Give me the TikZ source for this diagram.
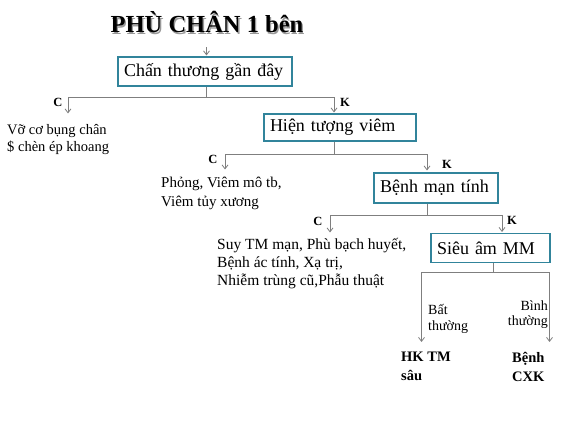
\documentclass[tikz,border=0pt]{standalone}
\usepackage{fontspec}
\setmainfont{Liberation Serif}
\usetikzlibrary{arrows.meta}
\definecolor{boxteal}{HTML}{31849B}
\definecolor{linegray}{HTML}{7F7F7F}
\begin{document}
\begin{tikzpicture}[x=1pt,y=-1pt,
  box/.style={draw=boxteal, line width=1.3pt, fill=white, font=\fontsize{18}{22}\selectfont,
    inner xsep=6pt, inner ysep=0pt, align=left},
  conn/.style={draw=linegray, line width=0.9pt},
  arr/.style={draw=linegray, line width=0.9pt, -{Straight Barb[length=4pt,width=6pt,line width=0.8pt]}},
  lbl/.style={font=\bfseries\fontsize{12.5}{14}\selectfont, inner sep=0pt},
  note/.style={font=\fontsize{14}{19}\selectfont, align=left, inner sep=0pt, anchor=west},
  titletxt/.style={font=\bfseries\fontsize{24.5}{28}\selectfont, inner sep=0pt, anchor=base},
]
\useasboundingbox (0,0) rectangle (563,422);
\fill[white] (0,0) rectangle (563,422);

% title with shadow
\node[titletxt, text=black!40] (titleshadow) at (208.3,34.3) {PHÙ CHÂN 1 bên};
\node[titletxt] (title) at (207,33) {PHÙ CHÂN 1 bên};

% boxes
\node[box, text width=162pt, minimum height=29pt] (b1) at (205,71.5) {\mbox{Chấn thương gần đây}};
\node[box, text width=140pt, minimum height=27pt] (b2) at (340,127.5) {\mbox{Hiện tượng viêm}};
\node[box, text width=112pt, minimum height=30pt] (b3) at (436,188) {\mbox{Bệnh mạn tính}};
\node[box, text width=107pt, minimum height=28.5pt] (b4) at (490.5,248) {\mbox{Siêu âm MM}};

% texts
\node[note, font=\fontsize{14.5}{17.5}\selectfont] (t1) at (7,139.5) {Vỡ cơ bụng chân\\\$ chèn ép khoang};
\node[note, font=\fontsize{15}{19}\selectfont] (t2) at (161,193) {Phỏng, Viêm mô tb,\\Viêm tủy xương};
\node[note, font=\fontsize{15.5}{18}\selectfont] (t3) at (217,264) {Suy TM mạn, Phù bạch huyết,\\Bệnh ác tính, Xạ trị,\\Nhiễm trùng cũ,Phẫu thuật};
\node[note, font=\fontsize{14}{16.5}\selectfont] (bat) at (428,319) {Bất\\thường};
\node[note, anchor=east, align=right, font=\fontsize{14}{15.5}\selectfont] (binh) at (548,314.5) {Bình\\thường};
\node[note, font=\bfseries\fontsize{14.5}{19}\selectfont] (hk) at (401,366.5) {HK TM\\sâu};
\node[note, font=\bfseries\fontsize{14.5}{19}\selectfont] (cxk) at (512,366.5) {Bệnh\\CXK};

% C / K labels
\node[lbl] (c1) at (58,102.5) {C};
\node[lbl] (k1) at (345,102.5) {K};
\node[lbl] (c2) at (213,159.5) {C};
\node[lbl] (k2) at (447,164) {K};
\node[lbl] (c3) at (318,221) {C};
\node[lbl] (k3) at (512,220.5) {K};

% junction and end coordinates
\coordinate (a0) at (206.5,47.5);
\coordinate (a0e) at (206.5,55.5);
\coordinate (j1) at (206.5,97);
\coordinate (d1l) at (68,113.5);
\coordinate (d1r) at (334,112.5);
\coordinate (j2) at (334.5,154);
\coordinate (d2l) at (225,169.5);
\coordinate (d2r) at (427,170.5);
\coordinate (j3) at (427,215.5);
\coordinate (d3l) at (330,232.5);
\coordinate (d3r) at (502,232);
\coordinate (j4) at (493,272);
\coordinate (d4l) at (421.5,342);
\coordinate (d4r) at (549.5,342);

% connectors
\draw[arr] (a0) -- (a0e);
\draw[conn] (j1 |- b1.south) -- (j1);
\draw[arr] (j1) -| (d1l);
\draw[arr] (j1) -| (d1r);
\draw[conn] (j2 |- b2.south) -- (j2);
\draw[arr] (j2) -| (d2l);
\draw[arr] (j2) -| (d2r);
\draw[conn] (j3 |- b3.south) -- (j3);
\draw[arr] (j3) -| (d3l);
\draw[arr] (j3) -| (d3r);
\draw[conn] (j4 |- b4.south) -- (j4);
\draw[arr] (j4) -| (d4l);
\draw[arr] (j4) -| (d4r);
\end{tikzpicture}
\end{document}
